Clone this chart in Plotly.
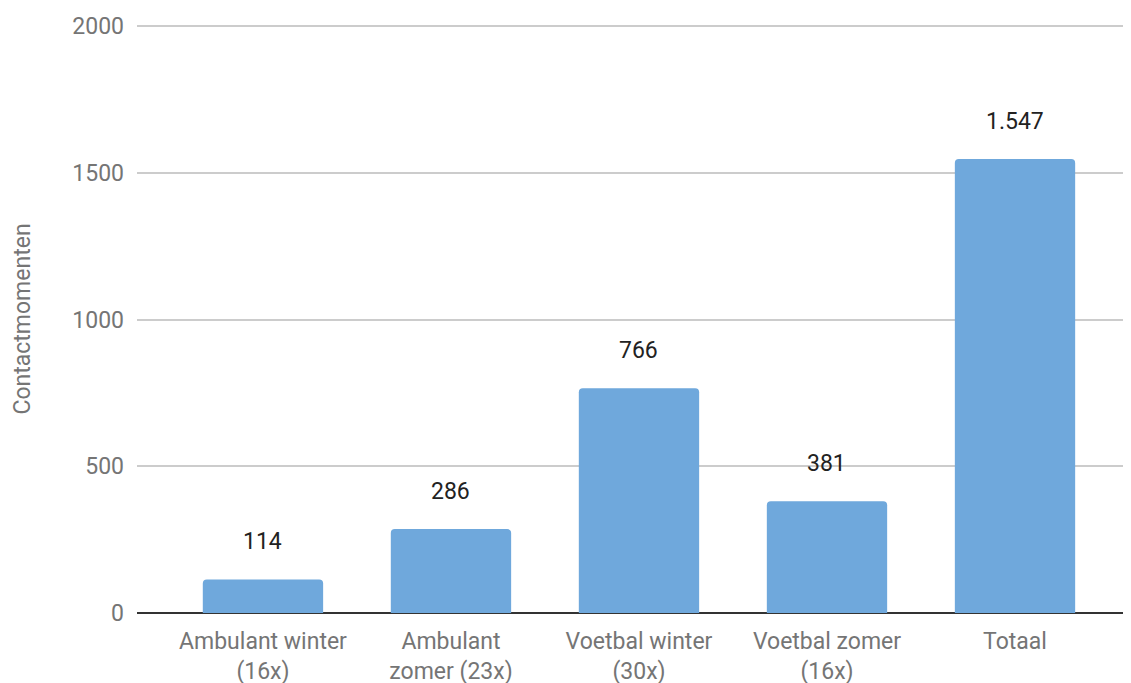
import plotly.graph_objects as go

categories = [
    "Ambulant winter<br>(16x)",
    "Ambulant<br>zomer (23x)",
    "Voetbal winter<br>(30x)",
    "Voetbal zomer<br>(16x)",
    "Totaal",
]
contactmomenten = [114, 286, 766, 381, 1547]
y_ticks = [0, 500, 1000, 1500, 2000]


def nl_number(value):
    # Dutch thousands separator
    return f"{value:,}".replace(",", ".")


fig = go.Figure()

fig.add_trace(
    go.Bar(
        x=categories,
        y=contactmomenten,
        marker=dict(color="#6fa8dc", cornerradius=4, line=dict(width=0)),
        width=0.64,
        hoverinfo="skip",
    )
)

for cat, val in zip(categories, contactmomenten):
    fig.add_annotation(
        x=cat,
        y=val,
        text=nl_number(val),
        showarrow=False,
        yshift=38,
        font=dict(size=23, color="#222222"),
    )

# page body adds an 8px offset, so the figure is 8px smaller on each side
fig.update_layout(
    width=1123,
    height=675,
    margin=dict(l=129, r=0, t=17, b=70),
    plot_bgcolor="white",
    paper_bgcolor="white",
    font=dict(family="Roboto", size=23, color="#757575"),
    showlegend=False,
    xaxis=dict(
        range=[-0.67, 4.617],
        automargin=False,
        showgrid=False,
        ticklabelstandoff=12,
        tickfont=dict(size=23, color="#757575"),
        showline=False,
    ),
    yaxis=dict(
        range=[0, 2004],
        tickvals=y_ticks,
        ticktext=[str(v) for v in y_ticks],
        showgrid=True,
        gridcolor="#cccccc",
        gridwidth=1.5,
        zeroline=True,
        zerolinecolor="#333333",
        zerolinewidth=1.5,
        ticklabelstandoff=12,
        tickfont=dict(size=23, color="#757575"),
        title=dict(text="Contactmomenten", standoff=35,
                   font=dict(size=23, color="#757575")),
    ),
)

fig.write_html("out.html")
